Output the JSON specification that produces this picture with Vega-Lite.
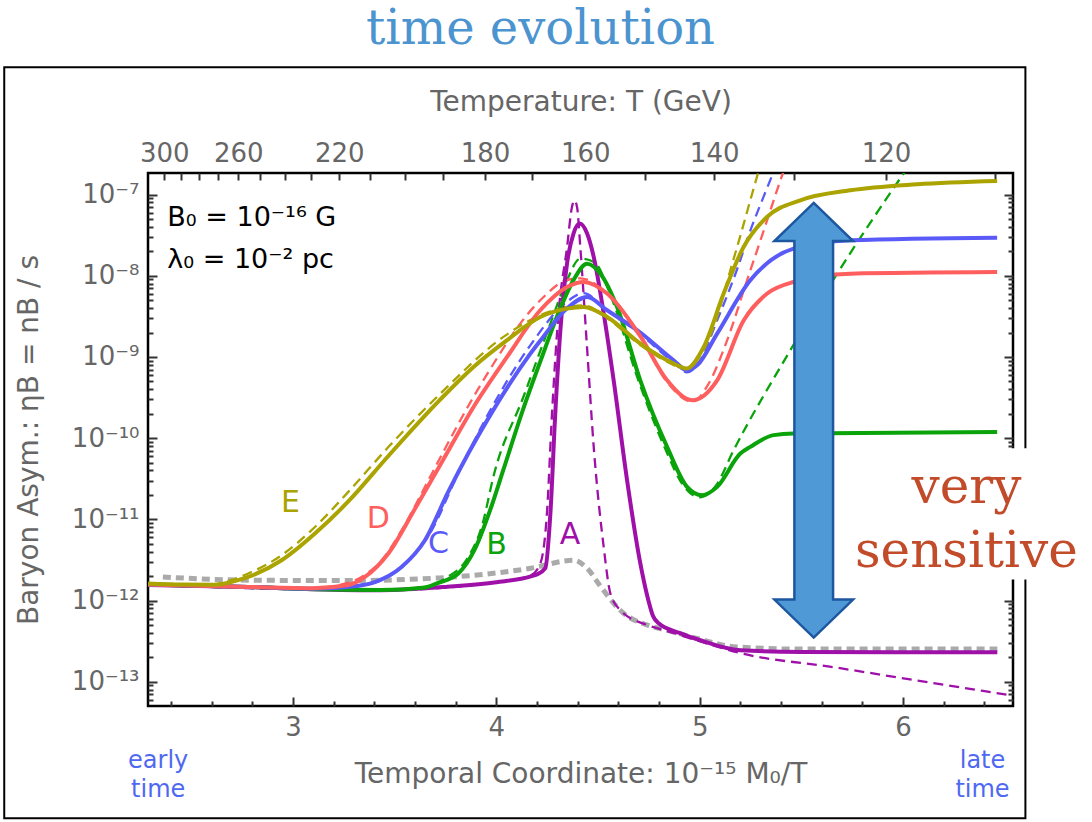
{
  "$schema": "https://vega.github.io/schema/vega-lite/v6.json",
  "width": 865,
  "height": 533,
  "autosize": {"type": "none"},
  "padding": {"left": 148, "top": 173, "right": 79, "bottom": 116},
  "background": "white",
  "title": {"text": "time evolution", "font": "DejaVu Serif", "fontSize": 48, "fontWeight": "normal", "color": "#4b94d0", "anchor": "middle", "dx": -40, "offset": 12},
  "config": {
    "view": {"stroke": "#000000", "strokeWidth": 2.5},
    "axis": {"labelFont": "DejaVu Sans", "titleFont": "DejaVu Sans", "labelColor": "#666666", "titleColor": "#666666", "tickColor": "#333333", "tickWidth": 2, "ticks": true, "domain": false, "grid": false, "titleFontWeight": "normal", "labelFontSize": 26, "titleFontSize": 28, "labelOverlap": false, "labelFlush": false, "labelBound": false, "zindex": 1},
    "text": {"font": "DejaVu Sans"}
  },
  "datasets": {
    "curves": [
      {"s":"G","t":"ref","x":2.36,"y":1.95e-12},{"s":"G","t":"ref","x":2.78,"y":1.78e-12},{"s":"G","t":"ref","x":3.27,"y":1.76e-12},{"s":"G","t":"ref","x":3.72,"y":1.9e-12},{"s":"G","t":"ref","x":4.17,"y":2.5e-12},{"s":"G","t":"ref","x":4.38,"y":3.13e-12},{"s":"G","t":"ref","x":4.446,"y":2.5e-12},{"s":"G","t":"ref","x":4.512,"y":1.5e-12},{"s":"G","t":"ref","x":4.594,"y":8.3e-13},{"s":"G","t":"ref","x":4.625,"y":7.0e-13},{"s":"G","t":"ref","x":4.741,"y":5.0e-13},{"s":"G","t":"ref","x":4.841,"y":4.3e-13},{"s":"G","t":"ref","x":5.0,"y":3.35e-13},{"s":"G","t":"ref","x":5.166,"y":2.7e-13},{"s":"G","t":"ref","x":5.5,"y":2.52e-13},{"s":"G","t":"ref","x":6.464,"y":2.52e-13},

      {"s":"A","t":"solid","x":2.287,"y":1.55e-12},{"s":"A","t":"solid","x":2.78,"y":1.47e-12},{"s":"A","t":"solid","x":3.1,"y":1.38e-12},{"s":"A","t":"solid","x":3.43,"y":1.34e-12},{"s":"A","t":"solid","x":3.76,"y":1.48e-12},{"s":"A","t":"solid","x":4.0,"y":1.68e-12},{"s":"A","t":"solid","x":4.17,"y":1.98e-12},{"s":"A","t":"solid","x":4.2,"y":2.1e-12},{"s":"A","t":"solid","x":4.241,"y":2.5e-12},{"s":"A","t":"solid","x":4.266,"y":1.19e-11},{"s":"A","t":"solid","x":4.29,"y":2.03e-10},{"s":"A","t":"solid","x":4.315,"y":2.13e-9},{"s":"A","t":"solid","x":4.348,"y":1.43e-8},{"s":"A","t":"solid","x":4.38,"y":3.34e-8},{"s":"A","t":"solid","x":4.41,"y":4.4e-8},{"s":"A","t":"solid","x":4.446,"y":3.34e-8},{"s":"A","t":"solid","x":4.479,"y":1.71e-8},{"s":"A","t":"solid","x":4.528,"y":3.45e-9},{"s":"A","t":"solid","x":4.577,"y":5.16e-10},{"s":"A","t":"solid","x":4.643,"y":3.03e-11},{"s":"A","t":"solid","x":4.708,"y":2.88e-12},{"s":"A","t":"solid","x":4.74,"y":1.2e-12},{"s":"A","t":"solid","x":4.77,"y":6.5e-13},{"s":"A","t":"solid","x":4.8,"y":5.2e-13},{"s":"A","t":"solid","x":4.9,"y":4.0e-13},{"s":"A","t":"solid","x":5.003,"y":3.24e-13},{"s":"A","t":"solid","x":5.2,"y":2.44e-13},{"s":"A","t":"solid","x":5.5,"y":2.32e-13},{"s":"A","t":"solid","x":6.464,"y":2.31e-13},

      {"s":"A","t":"dash","x":2.287,"y":1.55e-12},{"s":"A","t":"dash","x":3.43,"y":1.34e-12},{"s":"A","t":"dash","x":4.0,"y":1.68e-12},{"s":"A","t":"dash","x":4.17,"y":2.05e-12},{"s":"A","t":"dash","x":4.217,"y":2.88e-12},{"s":"A","t":"dash","x":4.249,"y":1.19e-11},{"s":"A","t":"dash","x":4.274,"y":2.03e-10},{"s":"A","t":"dash","x":4.306,"y":3.45e-9},{"s":"A","t":"dash","x":4.348,"y":2.26e-8},{"s":"A","t":"dash","x":4.372,"y":7.03e-8},{"s":"A","t":"dash","x":4.384,"y":8.5e-8},{"s":"A","t":"dash","x":4.397,"y":7.03e-8},{"s":"A","t":"dash","x":4.413,"y":2.26e-8},{"s":"A","t":"dash","x":4.446,"y":1.33e-9},{"s":"A","t":"dash","x":4.479,"y":7.8e-11},{"s":"A","t":"dash","x":4.528,"y":4.57e-12},{"s":"A","t":"dash","x":4.561,"y":1.22e-12},{"s":"A","t":"dash","x":4.61,"y":7.6e-13},{"s":"A","t":"dash","x":4.741,"y":5.0e-13},{"s":"A","t":"dash","x":4.841,"y":4.2e-13},{"s":"A","t":"dash","x":5.0,"y":3.15e-13},{"s":"A","t":"dash","x":5.2,"y":2.25e-13},{"s":"A","t":"dash","x":5.658,"y":1.51e-13},{"s":"A","t":"dash","x":6.15,"y":9.6e-14},{"s":"A","t":"dash","x":6.53,"y":6.8e-14},

      {"s":"B","t":"solid","x":2.287,"y":1.57e-12},{"s":"B","t":"solid","x":2.78,"y":1.47e-12},{"s":"B","t":"solid","x":3.1,"y":1.38e-12},{"s":"B","t":"solid","x":3.43,"y":1.35e-12},{"s":"B","t":"solid","x":3.65,"y":1.45e-12},{"s":"B","t":"solid","x":3.715,"y":1.65e-12},{"s":"B","t":"solid","x":3.813,"y":2.15e-12},{"s":"B","t":"solid","x":3.892,"y":4.17e-12},{"s":"B","t":"solid","x":3.975,"y":1.42e-11},{"s":"B","t":"solid","x":4.034,"y":4.03e-11},{"s":"B","t":"solid","x":4.13,"y":2.2e-10},{"s":"B","t":"solid","x":4.217,"y":8.9e-10},{"s":"B","t":"solid","x":4.315,"y":3.98e-9},{"s":"B","t":"solid","x":4.38,"y":8.9e-9},{"s":"B","t":"solid","x":4.446,"y":1.41e-8},{"s":"B","t":"solid","x":4.512,"y":1.06e-8},{"s":"B","t":"solid","x":4.594,"y":4.13e-9},{"s":"B","t":"solid","x":4.708,"y":5.16e-10},{"s":"B","t":"solid","x":4.84,"y":7.8e-11},{"s":"B","t":"solid","x":4.938,"y":2.51e-11},{"s":"B","t":"solid","x":5.012,"y":1.98e-11},{"s":"B","t":"solid","x":5.086,"y":2.51e-11},{"s":"B","t":"solid","x":5.2,"y":6.45e-11},{"s":"B","t":"solid","x":5.249,"y":7.8e-11},{"s":"B","t":"solid","x":5.364,"y":1.09e-10},{"s":"B","t":"solid","x":5.462,"y":1.14e-10},{"s":"B","t":"solid","x":6.463,"y":1.19e-10},

      {"s":"B","t":"dash","x":2.287,"y":1.57e-12},{"s":"B","t":"dash","x":3.43,"y":1.35e-12},{"s":"B","t":"dash","x":3.65,"y":1.47e-12},{"s":"B","t":"dash","x":3.748,"y":1.87e-12},{"s":"B","t":"dash","x":3.862,"y":3.44e-12},{"s":"B","t":"dash","x":3.928,"y":8.06e-12},{"s":"B","t":"dash","x":3.99,"y":3.7e-11},{"s":"B","t":"dash","x":4.133,"y":3.21e-10},{"s":"B","t":"dash","x":4.266,"y":2.58e-9},{"s":"B","t":"dash","x":4.348,"y":8.9e-9},{"s":"B","t":"dash","x":4.413,"y":1.63e-8},{"s":"B","t":"dash","x":4.482,"y":1.47e-8},{"s":"B","t":"dash","x":4.571,"y":4.99e-9},{"s":"B","t":"dash","x":4.69,"y":5.94e-10},{"s":"B","t":"dash","x":4.823,"y":8.2e-11},{"s":"B","t":"dash","x":4.925,"y":2.5e-11},{"s":"B","t":"dash","x":4.999,"y":1.87e-11},{"s":"B","t":"dash","x":5.08,"y":2.6e-11},{"s":"B","t":"dash","x":5.167,"y":7.1e-11},{"s":"B","t":"dash","x":5.446,"y":1.21e-9},{"s":"B","t":"dash","x":5.676,"y":1.06e-8},{"s":"B","t":"dash","x":6.003,"y":1.82e-7},{"s":"B","t":"dash","x":6.02,"y":2.1e-7},

      {"s":"C","t":"solid","x":2.287,"y":1.57e-12},{"s":"C","t":"solid","x":2.78,"y":1.47e-12},{"s":"C","t":"solid","x":3.1,"y":1.4e-12},{"s":"C","t":"solid","x":3.272,"y":1.47e-12},{"s":"C","t":"solid","x":3.403,"y":1.69e-12},{"s":"C","t":"solid","x":3.534,"y":2.59e-12},{"s":"C","t":"solid","x":3.649,"y":5.53e-12},{"s":"C","t":"solid","x":3.764,"y":2.19e-11},{"s":"C","t":"solid","x":3.862,"y":6.46e-11},{"s":"C","t":"solid","x":3.96,"y":1.74e-10},{"s":"C","t":"solid","x":4.053,"y":4.17e-10},{"s":"C","t":"solid","x":4.15,"y":9.55e-10},{"s":"C","t":"solid","x":4.216,"y":1.58e-9},{"s":"C","t":"solid","x":4.348,"y":3.98e-9},{"s":"C","t":"solid","x":4.446,"y":5.48e-9},{"s":"C","t":"solid","x":4.545,"y":3.76e-9},{"s":"C","t":"solid","x":4.708,"y":2.0e-9},{"s":"C","t":"solid","x":4.872,"y":9.1e-10},{"s":"C","t":"solid","x":4.938,"y":6.85e-10},{"s":"C","t":"solid","x":4.99,"y":8.0e-10},{"s":"C","t":"solid","x":5.086,"y":1.94e-9},{"s":"C","t":"solid","x":5.249,"y":8.8e-9},{"s":"C","t":"solid","x":5.462,"y":2.16e-8},{"s":"C","t":"solid","x":5.741,"y":2.74e-8},{"s":"C","t":"solid","x":6.463,"y":2.95e-8},

      {"s":"C","t":"dash","x":2.287,"y":1.57e-12},{"s":"C","t":"dash","x":3.1,"y":1.4e-12},{"s":"C","t":"dash","x":3.3,"y":1.52e-12},{"s":"C","t":"dash","x":3.436,"y":1.78e-12},{"s":"C","t":"dash","x":3.567,"y":3.13e-12},{"s":"C","t":"dash","x":3.682,"y":7.3e-12},{"s":"C","t":"dash","x":3.797,"y":3.03e-11},{"s":"C","t":"dash","x":3.97,"y":2.2e-10},{"s":"C","t":"dash","x":4.167,"y":1.39e-9},{"s":"C","t":"dash","x":4.344,"y":4.72e-9},{"s":"C","t":"dash","x":4.428,"y":6.1e-9},{"s":"C","t":"dash","x":4.545,"y":3.76e-9},{"s":"C","t":"dash","x":4.708,"y":1.9e-9},{"s":"C","t":"dash","x":4.871,"y":8.6e-10},{"s":"C","t":"dash","x":4.938,"y":6.47e-10},{"s":"C","t":"dash","x":4.99,"y":8.0e-10},{"s":"C","t":"dash","x":5.086,"y":2.83e-9},{"s":"C","t":"dash","x":5.184,"y":1.2e-8},{"s":"C","t":"dash","x":5.249,"y":3.6e-8},{"s":"C","t":"dash","x":5.315,"y":9.5e-8},{"s":"C","t":"dash","x":5.38,"y":2.4e-7},

      {"s":"D","t":"solid","x":2.287,"y":1.57e-12},{"s":"D","t":"solid","x":2.78,"y":1.47e-12},{"s":"D","t":"solid","x":3.1,"y":1.42e-12},{"s":"D","t":"solid","x":3.272,"y":1.55e-12},{"s":"D","t":"solid","x":3.354,"y":1.95e-12},{"s":"D","t":"solid","x":3.469,"y":3.79e-12},{"s":"D","t":"solid","x":3.6,"y":1.35e-11},{"s":"D","t":"solid","x":3.731,"y":5.0e-11},{"s":"D","t":"solid","x":3.888,"y":2.42e-10},{"s":"D","t":"solid","x":4.053,"y":1.0e-9},{"s":"D","t":"solid","x":4.216,"y":3.76e-9},{"s":"D","t":"solid","x":4.348,"y":7.28e-9},{"s":"D","t":"solid","x":4.429,"y":8.39e-9},{"s":"D","t":"solid","x":4.545,"y":6.04e-9},{"s":"D","t":"solid","x":4.708,"y":1.8e-9},{"s":"D","t":"solid","x":4.84,"y":5.16e-10},{"s":"D","t":"solid","x":4.964,"y":2.93e-10},{"s":"D","t":"solid","x":5.086,"y":5.16e-10},{"s":"D","t":"solid","x":5.217,"y":2.83e-9},{"s":"D","t":"solid","x":5.332,"y":6.04e-9},{"s":"D","t":"solid","x":5.462,"y":8.39e-9},{"s":"D","t":"solid","x":5.741,"y":1.06e-8},{"s":"D","t":"solid","x":6.463,"y":1.11e-8},

      {"s":"D","t":"dash","x":2.287,"y":1.57e-12},{"s":"D","t":"dash","x":3.1,"y":1.42e-12},{"s":"D","t":"dash","x":3.25,"y":1.6e-12},{"s":"D","t":"dash","x":3.337,"y":1.95e-12},{"s":"D","t":"dash","x":3.436,"y":3.13e-12},{"s":"D","t":"dash","x":3.534,"y":7.3e-12},{"s":"D","t":"dash","x":3.649,"y":2.51e-11},{"s":"D","t":"dash","x":3.731,"y":6.2e-11},{"s":"D","t":"dash","x":3.922,"y":4.5e-10},{"s":"D","t":"dash","x":4.216,"y":4.99e-9},{"s":"D","t":"dash","x":4.344,"y":8.8e-9},{"s":"D","t":"dash","x":4.413,"y":9.3e-9},{"s":"D","t":"dash","x":4.545,"y":6.04e-9},{"s":"D","t":"dash","x":4.708,"y":1.8e-9},{"s":"D","t":"dash","x":4.84,"y":4.9e-10},{"s":"D","t":"dash","x":4.964,"y":2.8e-10},{"s":"D","t":"dash","x":5.04,"y":4.5e-10},{"s":"D","t":"dash","x":5.135,"y":1.6e-9},{"s":"D","t":"dash","x":5.233,"y":8.8e-9},{"s":"D","t":"dash","x":5.315,"y":3.6e-8},{"s":"D","t":"dash","x":5.38,"y":1.12e-7},{"s":"D","t":"dash","x":5.42,"y":2.2e-7},

      {"s":"E","t":"solid","x":2.287,"y":1.62e-12},{"s":"E","t":"solid","x":2.45,"y":1.57e-12},{"s":"E","t":"solid","x":2.616,"y":1.56e-12},{"s":"E","t":"solid","x":2.7,"y":1.7e-12},{"s":"E","t":"solid","x":2.78,"y":1.95e-12},{"s":"E","t":"solid","x":2.944,"y":3.13e-12},{"s":"E","t":"solid","x":3.108,"y":6.68e-12},{"s":"E","t":"solid","x":3.272,"y":1.66e-11},{"s":"E","t":"solid","x":3.469,"y":6.03e-11},{"s":"E","t":"solid","x":3.725,"y":3.0e-10},{"s":"E","t":"solid","x":3.888,"y":7.53e-10},{"s":"E","t":"solid","x":4.053,"y":1.61e-9},{"s":"E","t":"solid","x":4.216,"y":3.11e-9},{"s":"E","t":"solid","x":4.348,"y":3.94e-9},{"s":"E","t":"solid","x":4.429,"y":4.13e-9},{"s":"E","t":"solid","x":4.545,"y":3.11e-9},{"s":"E","t":"solid","x":4.708,"y":1.46e-9},{"s":"E","t":"solid","x":4.872,"y":8.3e-10},{"s":"E","t":"solid","x":4.935,"y":7.2e-10},{"s":"E","t":"solid","x":5.02,"y":1.33e-9},{"s":"E","t":"solid","x":5.118,"y":6.04e-9},{"s":"E","t":"solid","x":5.216,"y":2.26e-8},{"s":"E","t":"solid","x":5.331,"y":5.3e-8},{"s":"E","t":"solid","x":5.495,"y":8.5e-8},{"s":"E","t":"solid","x":5.741,"y":1.13e-7},{"s":"E","t":"solid","x":6.069,"y":1.34e-7},{"s":"E","t":"solid","x":6.463,"y":1.47e-7},

      {"s":"E","t":"dash","x":2.287,"y":1.62e-12},{"s":"E","t":"dash","x":2.6,"y":1.58e-12},{"s":"E","t":"dash","x":2.7,"y":1.8e-12},{"s":"E","t":"dash","x":2.78,"y":2.15e-12},{"s":"E","t":"dash","x":2.944,"y":3.61e-12},{"s":"E","t":"dash","x":3.108,"y":8.05e-12},{"s":"E","t":"dash","x":3.272,"y":2.18e-11},{"s":"E","t":"dash","x":3.469,"y":7.76e-11},{"s":"E","t":"dash","x":3.725,"y":3.54e-10},{"s":"E","t":"dash","x":4.053,"y":1.9e-9},{"s":"E","t":"dash","x":4.266,"y":3.66e-9},{"s":"E","t":"dash","x":4.429,"y":4.33e-9},{"s":"E","t":"dash","x":4.545,"y":3.0e-9},{"s":"E","t":"dash","x":4.708,"y":1.4e-9},{"s":"E","t":"dash","x":4.871,"y":8.0e-10},{"s":"E","t":"dash","x":4.935,"y":6.9e-10},{"s":"E","t":"dash","x":5.0,"y":1.0e-9},{"s":"E","t":"dash","x":5.086,"y":3.11e-9},{"s":"E","t":"dash","x":5.151,"y":1.17e-8},{"s":"E","t":"dash","x":5.2,"y":3.1e-8},{"s":"E","t":"dash","x":5.249,"y":8.5e-8},{"s":"E","t":"dash","x":5.3,"y":2.4e-7}
    ]
  },
  "layer": [
    {
      "data": {"values": [{"x1": 1.58, "x2": 6.602, "y1": 2.08e-15, "y2": 3.7e-6}]},
      "mark": {"type": "rect", "fillOpacity": 0, "stroke": "#000000", "strokeWidth": 2, "clip": false},
      "encoding": {
        "x": {"field": "x1", "type": "quantitative", "scale": {"domain": [2.287, 6.541], "nice": false, "zero": false}, "axis": null},
        "x2": {"field": "x2"},
        "y": {"field": "y1", "type": "quantitative", "scale": {"type": "log", "domain": [5.02e-14, 1.845e-7], "nice": false}, "axis": null},
        "y2": {"field": "y2"}
      }
    },
    {
      "data": {"values": [{"x1": 5.75, "x2": 6.95, "y1": 1.82e-12, "y2": 7.5e-11}]},
      "mark": {"type": "rect", "fill": "#ffffff", "clip": false},
      "encoding": {
        "x": {"field": "x1", "type": "quantitative", "scale": {"domain": [2.287, 6.541], "nice": false, "zero": false}, "axis": null},
        "x2": {"field": "x2"},
        "y": {"field": "y1", "type": "quantitative", "scale": {"type": "log", "domain": [5.02e-14, 1.845e-7], "nice": false}, "axis": null},
        "y2": {"field": "y2"}
      }
    },
    {
      "data": {"name": "curves"},
      "transform": [{"filter": "datum.t == 'ref'"}],
      "mark": {"type": "line", "stroke": "#aaaaaa", "strokeWidth": 5, "strokeDash": [8, 5], "interpolate": "monotone", "clip": true},
      "encoding": {
        "x": {"field": "x", "type": "quantitative", "scale": {"domain": [2.287, 6.541], "nice": false, "zero": false},
          "axis": {"orient": "bottom", "values": [3, 4, 5, 6], "format": "d", "tickSize": 9, "offset": -9,
            "labelPadding": 8, "title": "Temporal Coordinate: 10⁻¹⁵ M₀/T", "titlePadding": 20}},
        "y": {"field": "y", "type": "quantitative", "scale": {"type": "log", "domain": [5.02e-14, 1.845e-7], "nice": false},
          "axis": {"orient": "left", "values": [1e-13, 1e-12, 1e-11, 1e-10, 1e-9, 1e-8, 1e-7],
            "labelExpr": "'10' + ['⁻⁷','⁻⁸','⁻⁹','⁻¹⁰','⁻¹¹','⁻¹²','⁻¹³'][-7-round(log(datum.value)/LN10)]",
            "tickSize": 9, "offset": -9, "labelPadding": 9, "title": "Baryon Asym.:  ηB = nB / s", "titlePadding": 28}}
      }
    },
    {
      "data": {"name": "curves"},
      "transform": [{"filter": "datum.t == 'dash'"}],
      "mark": {"type": "line", "strokeWidth": 2.3, "strokeDash": [10, 6], "interpolate": "monotone", "clip": true},
      "encoding": {
        "x": {"field": "x", "type": "quantitative", "scale": {"domain": [2.287, 6.541], "nice": false, "zero": false},
          "axis": {"orient": "top", "values": [2.366667,2.448276,2.535714,2.62963,2.730769,2.84,2.958333,3.086957,3.227273,3.380952,3.55,3.736842,3.944444,4.176471,4.4375,4.733333,5.071429,5.461538,5.916667,6.454545],
            "labelExpr": "indexof([300,260,220,180,160,140,120], round(710/datum.value)) >= 0 ? format(round(710/datum.value),'d') : ''",
            "tickSize": 7, "offset": -7, "labelPadding": 7, "title": "Temperature:  T (GeV)", "titlePadding": 24}},
        "y": {"field": "y", "type": "quantitative", "scale": {"type": "log", "domain": [5.02e-14, 1.845e-7], "nice": false},
          "axis": {"orient": "right", "labels": false, "title": null, "values": [1e-13, 1e-12, 1e-11, 1e-10, 1e-9, 1e-8, 1e-7], "tickSize": 9, "offset": -9}},
        "color": {"field": "s", "type": "nominal", "scale": {"domain": ["A","B","C","D","E"], "range": ["#9f10a9","#0aa30a","#5a5af8","#ff5e5e","#aaa300"]}, "legend": null}
      }
    },
    {
      "data": {"name": "curves"},
      "transform": [{"filter": "datum.t == 'solid'"}],
      "mark": {"type": "line", "strokeWidth": 4, "interpolate": "monotone", "clip": true},
      "encoding": {
        "x": {"field": "x", "type": "quantitative", "scale": {"domain": [2.287, 6.541], "nice": false, "zero": false},
          "axis": {"orient": "bottom", "labels": false, "title": null, "values": [2.4,2.6,2.8,3.2,3.4,3.6,3.8,4.2,4.4,4.6,4.8,5.2,5.4,5.6,5.8,6.2,6.4], "tickSize": 5, "offset": -5}},
        "y": {"field": "y", "type": "quantitative", "scale": {"type": "log", "domain": [5.02e-14, 1.845e-7], "nice": false},
          "axis": {"orient": "left", "labels": false, "title": null, "values": [6e-14,7e-14,8e-14,9e-14,2e-13,3e-13,4e-13,5e-13,6e-13,7e-13,8e-13,9e-13,2e-12,3e-12,4e-12,5e-12,6e-12,7e-12,8e-12,9e-12,2e-11,3e-11,4e-11,5e-11,6e-11,7e-11,8e-11,9e-11,2e-10,3e-10,4e-10,5e-10,6e-10,7e-10,8e-10,9e-10,2e-9,3e-9,4e-9,5e-9,6e-9,7e-9,8e-9,9e-9,2e-8,3e-8,4e-8,5e-8,6e-8,7e-8,8e-8,9e-8], "tickSize": 5, "offset": -5}},
        "color": {"field": "s", "type": "nominal", "scale": {"domain": ["A","B","C","D","E"], "range": ["#9f10a9","#0aa30a","#5a5af8","#ff5e5e","#aaa300"]}, "legend": null}
      }
    },
    {
      "data": {"values": [{"x": 5.561, "y": 1.661e-10}]},
      "mark": {"type": "point", "shape": "M0,-1 L0.181,-0.825 L0.089,-0.825 L0.089,0.825 L0.181,0.825 L0,1 L-0.181,0.825 L-0.089,0.825 L-0.089,-0.825 L-0.181,-0.825 Z", "size": 188877, "filled": true, "fill": "#4f9ad6", "stroke": "#1d57a0", "strokeWidth": 2.5, "opacity": 1, "clip": false},
      "encoding": {
        "x": {"field": "x", "type": "quantitative", "scale": {"domain": [2.287, 6.541], "nice": false, "zero": false}, "axis": null},
        "y": {"field": "y", "type": "quantitative", "scale": {"type": "log", "domain": [5.02e-14, 1.845e-7], "nice": false}, "axis": null}
      }
    },
    {
      "data": {"values": [
        {"s": "E", "x": 2.988, "y": 1.567e-11},
        {"s": "D", "x": 3.42, "y": 1.023e-11},
        {"s": "C", "x": 3.715, "y": 5.03e-12},
        {"s": "B", "x": 4.001, "y": 4.8e-12},
        {"s": "A", "x": 4.362, "y": 6.37e-12}
      ]},
      "mark": {"type": "text", "font": "DejaVu Sans", "fontSize": 30, "align": "center", "baseline": "middle"},
      "encoding": {
        "x": {"field": "x", "type": "quantitative", "scale": {"domain": [2.287, 6.541], "nice": false, "zero": false}, "axis": null},
        "y": {"field": "y", "type": "quantitative", "scale": {"type": "log", "domain": [5.02e-14, 1.845e-7], "nice": false},
          "axis": {"orient": "right", "labels": false, "title": null, "values": [6e-14,7e-14,8e-14,9e-14,2e-13,3e-13,4e-13,5e-13,6e-13,7e-13,8e-13,9e-13,2e-12,3e-12,4e-12,5e-12,6e-12,7e-12,8e-12,9e-12,2e-11,3e-11,4e-11,5e-11,6e-11,7e-11,8e-11,9e-11,2e-10,3e-10,4e-10,5e-10,6e-10,7e-10,8e-10,9e-10,2e-9,3e-9,4e-9,5e-9,6e-9,7e-9,8e-9,9e-9,2e-8,3e-8,4e-8,5e-8,6e-8,7e-8,8e-8,9e-8], "tickSize": 5, "offset": -5}},
        "text": {"field": "s"},
        "color": {"field": "s", "type": "nominal", "scale": {"domain": ["A","B","C","D","E"], "range": ["#9f10a9","#0aa30a","#5a5af8","#ff5e5e","#aaa300"]}, "legend": null}
      }
    },
    {
      "data": {"values": [{"label": "B₀ = 10⁻¹⁶ G\nλ₀ = 10⁻² pc", "x": 2.382, "y": 4.07e-8}]},
      "mark": {"type": "text", "font": "DejaVu Sans", "fontSize": 27, "align": "left", "baseline": "alphabetic", "lineBreak": "\n", "lineHeight": 42, "color": "#000000"},
      "encoding": {
        "x": {"field": "x", "type": "quantitative", "scale": {"domain": [2.287, 6.541], "nice": false, "zero": false}, "axis": null},
        "y": {"field": "y", "type": "quantitative", "scale": {"type": "log", "domain": [5.02e-14, 1.845e-7], "nice": false}, "axis": null},
        "text": {"field": "label"}
      }
    },
    {
      "data": {"values": [{"label": "very\nsensitive", "x": 6.312, "y": 1.578e-11}]},
      "mark": {"type": "text", "font": "DejaVu Serif", "fontSize": 50, "align": "center", "baseline": "alphabetic", "lineBreak": "\n", "lineHeight": 64, "color": "#c24b2a", "clip": false},
      "encoding": {
        "x": {"field": "x", "type": "quantitative", "scale": {"domain": [2.287, 6.541], "nice": false, "zero": false}, "axis": null},
        "y": {"field": "y", "type": "quantitative", "scale": {"type": "log", "domain": [5.02e-14, 1.845e-7], "nice": false}, "axis": null},
        "text": {"field": "label"}
      }
    },
    {
      "data": {"values": [{"label": "early\ntime", "x": 2.337, "y": 8.61e-15}, {"label": "late\ntime", "x": 6.391, "y": 8.61e-15}]},
      "mark": {"type": "text", "font": "DejaVu Sans", "fontSize": 24, "align": "center", "baseline": "alphabetic", "lineBreak": "\n", "lineHeight": 29, "color": "#4f68f2", "clip": false},
      "encoding": {
        "x": {"field": "x", "type": "quantitative", "scale": {"domain": [2.287, 6.541], "nice": false, "zero": false}, "axis": null},
        "y": {"field": "y", "type": "quantitative", "scale": {"type": "log", "domain": [5.02e-14, 1.845e-7], "nice": false}, "axis": null},
        "text": {"field": "label"}
      }
    }
  ],
  "resolve": {"axis": {"x": "independent", "y": "independent"}}
}
